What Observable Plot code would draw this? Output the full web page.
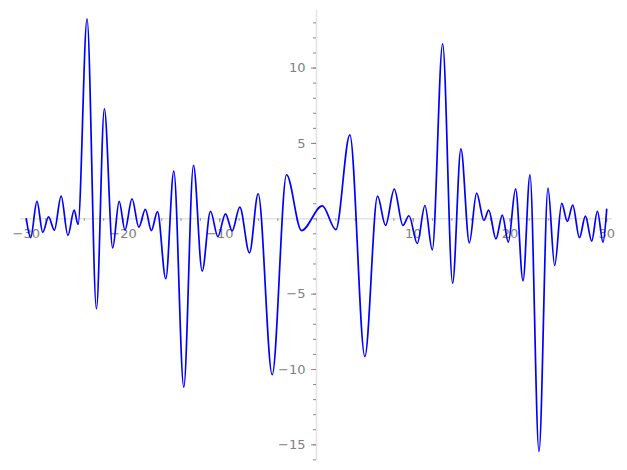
<!DOCTYPE html>
<html>
<head>
<meta charset="utf-8">
<script src="https://cdn.jsdelivr.net/npm/d3@7"></script>
<script src="https://cdn.jsdelivr.net/npm/@observablehq/plot@0.6"></script>
<style>
  html, body { margin: 0; padding: 0; background: #fff; }
</style>
</head>
<body>
<div id="chart"></div>
<script>
// Curve samples (local extrema)
const xs = [-30.0, -29.55, -28.9, -28.3, -27.7, -27.1, -26.4, -25.7, -25.05, -24.65,
  -23.72, -22.75, -21.93, -21.07, -20.4, -19.8, -19.07, -18.37, -17.69, -17.07,
  -16.44, -15.58, -14.75, -13.72, -12.72, -11.82, -10.96, -10.2, -9.41, -8.72,
  -7.93, -6.93, -6.03, -4.58, -3.1, -1.55, 0.6, 2.0, 3.45, 5.0,
  6.31, 7.14, 8.04, 8.93, 9.56, 10.42, 11.21, 11.97, 13.04, 14.07,
  14.93, 15.8, 16.55, 17.31, 17.8, 18.55, 19.21, 19.83, 20.58, 21.35,
  22.07, 23.0, 23.93, 24.62, 25.35, 25.93, 26.49, 27.18, 27.8, 28.45,
  29.04, 29.62, 30.0];
const ys = [0.0, -1.25, 1.15, -0.9, 0.12, -0.75, 1.5, -1.1, 0.57, -0.38,
  13.27, -5.97, 7.3, -1.93, 1.15, -0.75, 1.33, -0.56, 0.62, -0.78,
  0.48, -3.98, 3.16, -11.17, 3.54, -3.47, 0.5, -1.18, 0.33, -0.8,
  0.77, -2.26, 1.66, -10.35, 2.92, -0.78, 0.85, -0.72, 5.57, -9.14,
  1.5, -0.44, 1.97, -0.44, 0.2, -1.64, 0.88, -2.06, 11.61, -4.27,
  4.64, -1.6, 1.7, -0.11, 0.57, -1.33, 0.24, -1.55, 1.99, -4.12,
  2.92, -15.44, 2.03, -3.1, 1.02, -0.18, 0.9, -1.26, 0.17, -1.48,
  0.5, -1.55, 0.62];

// Tick values
const xMajor = [-30, -20, -10, 10, 20, 30];
const xMinor = d3.range(-30, 31, 2);
const yMajor = [-15, -10, -5, 5, 10];
const yMinor = d3.range(-16, 14, 1);

const data = xs.map((x, i) => ({x, y: ys[i]}));

const W = 627, H = 470;
const mL = 20, mR = 15, mT = 10, mB = 10;
const xDom = [-30.6, 30.6];
const yDom = [-16.04, 13.82];
const xPix = d3.scaleLinear(xDom, [mL, W - mR]);
const yPix = d3.scaleLinear(yDom, [H - mB, mT]);
const x0 = xPix(0), y0 = yPix(0);
const fmt = d3.format("");
const font = "DejaVu Sans, sans-serif";
const axisLine = "#e4e4e4";
const tickCol = "#8a8a8a";
const labelCol = "#808080";

const chart = Plot.plot({
  width: W, height: H,
  marginLeft: mL, marginRight: mR, marginTop: mT, marginBottom: mB,
  x: {domain: xDom, axis: null},
  y: {domain: yDom, axis: null},
  style: {background: "#fff", fontFamily: font},
  marks: [
    Plot.ruleY([0], {stroke: axisLine, strokeWidth: 1.6}),
    Plot.ruleX([0], {stroke: axisLine, strokeWidth: 1.6}),
    Plot.axisX(xMinor, {anchor: "bottom", dy: y0 - (H - mB), tickSize: 2.5, stroke: tickCol, fill: "none", tickFormat: () => ""}),
    Plot.axisX(xMajor, {anchor: "bottom", dy: y0 - (H - mB), tickSize: 4, stroke: tickCol, fill: "none", tickFormat: () => ""}),
    Plot.axisY(yMinor, {anchor: "left", dx: x0 - mL, tickSize: 3, stroke: tickCol, fill: "none", tickFormat: () => ""}),
    Plot.axisY(yMajor, {anchor: "left", dx: x0 - mL, tickSize: 5, stroke: tickCol, fill: "none", tickFormat: () => ""}),
    Plot.text(xMajor, {x: d => d, y: 0, text: d => fmt(d), dy: 15.5, fill: labelCol, fontSize: 13, fontFamily: font}),
    Plot.text(yMajor, {x: 0, y: d => d, text: d => fmt(d), dx: -11, textAnchor: "end", fill: labelCol, fontSize: 13, fontFamily: font}),
    Plot.line(data, {x: "x", y: "y", curve: "monotone-x", stroke: "#0000ff", strokeWidth: 1.7})
  ]
});
document.getElementById("chart").appendChild(chart);
</script>
</body>
</html>
